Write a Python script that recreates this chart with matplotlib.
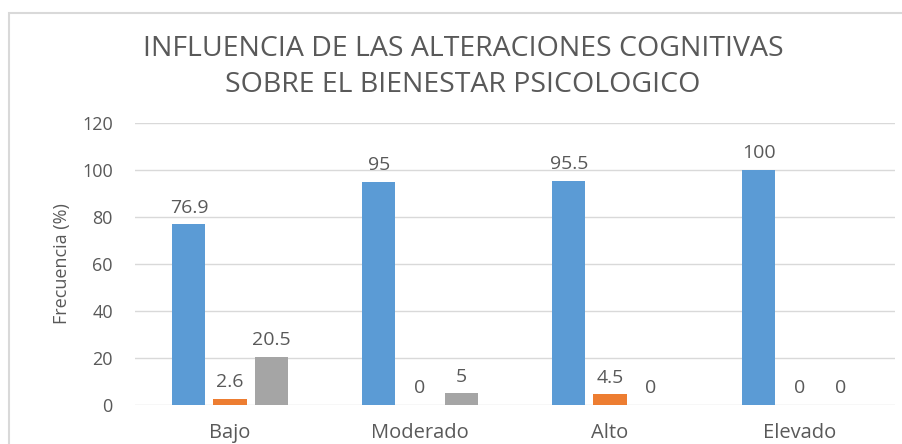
import matplotlib.pyplot as plt
from matplotlib.patches import Rectangle
import numpy as np

categories = ['Bajo', 'Moderado', 'Alto', 'Elevado']
serie_azul = [76.9, 95, 95.5, 100]
serie_naranja = [2.6, 0, 4.5, 0]
serie_gris = [20.5, 5, 0, 0]
y_ticks = [0, 20, 40, 60, 80, 100, 120]

colors = ['#5B9BD5', '#ED7D31', '#A5A5A5']
text_color = '#595959'
plt.rcParams['font.family'] = ['Open Sans', 'DejaVu Sans']

fig = plt.figure(figsize=(9.03, 4.44), dpi=100)
ax = fig.add_axes([135 / 903, 1 - 405 / 444, 760 / 903, 282 / 444])

x = np.arange(len(categories))
width = 0.174
step = 0.216
for i, vals in enumerate([serie_azul, serie_naranja, serie_gris]):
    pos = x + (i - 1) * step
    bars = ax.bar(pos, vals, width, color=colors[i], zorder=3)
    for b, v in zip(bars, vals):
        ax.annotate(f'{v:g}', (b.get_x() + b.get_width() / 2, v),
                    xytext=(0, 5.5), textcoords='offset points',
                    ha='center', va='bottom', fontsize=14, color=text_color)

ax.set_xlim(-0.5, 3.5)
ax.set_ylim(0, 120)
ax.set_yticks(y_ticks)
ax.set_xticks(x)
ax.set_xticklabels(categories, fontsize=14.5, color=text_color)
ax.tick_params(axis='y', labelsize=13, labelcolor=text_color, length=0, pad=16)
ax.tick_params(axis='x', length=0, pad=13)
ax.grid(axis='y', color='#D9D9D9', linewidth=1, zorder=0)
for s in ax.spines.values():
    s.set_visible(False)
ax.set_ylabel('Frecuencia (%)', fontsize=13, color=text_color, labelpad=8)

fig.text(463 / 903, 1 - 49 / 444, 'INFLUENCIA DE LAS ALTERACIONES COGNITIVAS',
         ha='center', va='center', fontsize=20.5, color=text_color)
fig.text(463 / 903, 1 - 85 / 444, 'SOBRE EL BIENESTAR PSICOLOGICO',
         ha='center', va='center', fontsize=20.5, color=text_color)

# chart frame (partly cut off at right and bottom)
fig.patches.append(Rectangle((9 / 903, -0.1), 1.2, 1 - 13 / 444 + 0.1,
                             transform=fig.transFigure, fill=False,
                             edgecolor='#D9D9D9', linewidth=1.5))

fig.savefig('out.png', dpi=100)
